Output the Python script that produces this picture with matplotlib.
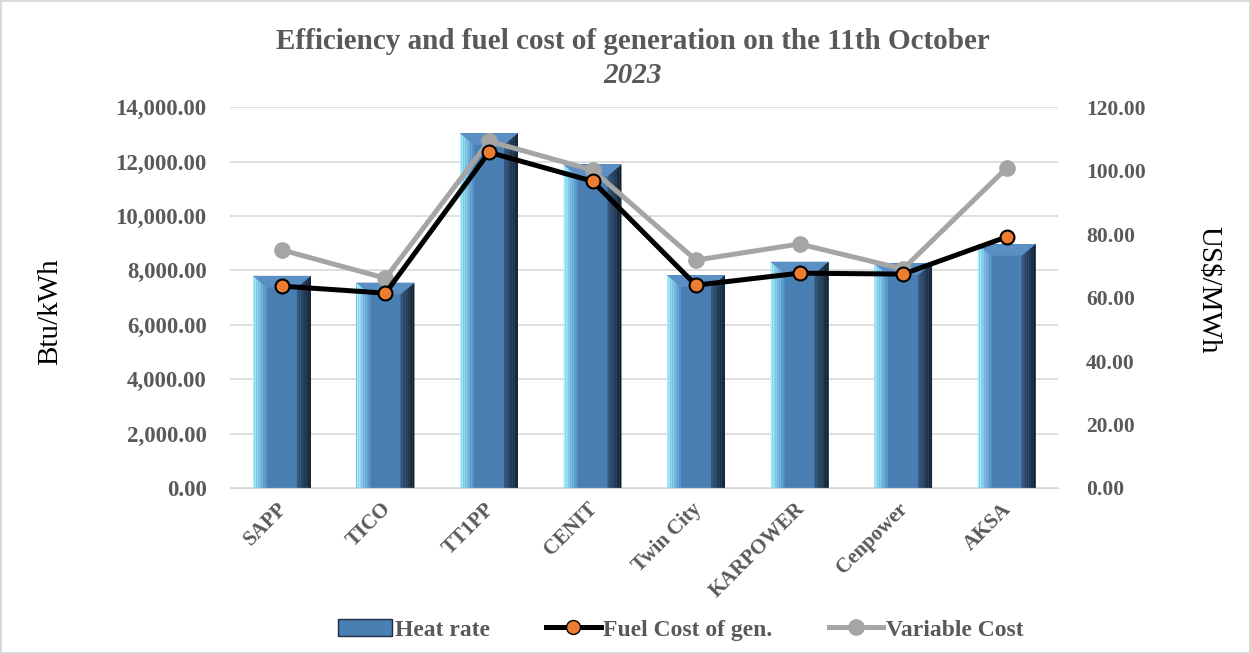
import numpy as np
import matplotlib.pyplot as plt
import matplotlib.transforms as mtransforms
from matplotlib.patches import Polygon, Patch
from matplotlib.lines import Line2D
from matplotlib.colors import to_rgb

plt.rcParams['font.family'] = 'serif'
plt.rcParams['font.serif'] = ['Liberation Serif', 'DejaVu Serif']

plants = ["SAPP", "TICO", "TT1PP", "CENIT", "Twin City", "KARPOWER", "Cenpower", "AKSA"]
heat_rate = [7800, 7550, 13050, 11900, 7830, 8320, 8260, 8970]
fuel_cost = [63.6, 61.4, 105.8, 96.7, 63.9, 67.7, 67.4, 79.1]
variable_cost = [75.0, 66.1, 109.3, 100.2, 71.8, 76.9, 69.0, 100.8]

grey = '#595959'
x = np.arange(len(plants))
width = 0.56

fig = plt.figure(figsize=(12.51, 6.54), dpi=100)
fig.patch.set_edgecolor('#d9d9d9')
fig.patch.set_linewidth(1.5)
ax1 = fig.add_axes([0.184, 0.254, 0.662, 0.582])
ax2 = ax1.twinx()

def blend(c1, c2, t):
    a, b = np.array(to_rgb(c1)), np.array(to_rgb(c2))
    return tuple(a + (b - a) * t)

# bars with a bevel look
bars = ax1.bar(x, heat_rate, width, color='#4a7fb3', zorder=2)
bw = 0.135  # bevel width in x units
bh = 430    # bevel height in data units
for rect in bars:
    x0 = rect.get_x()
    x1 = x0 + rect.get_width()
    h = rect.get_height()
    n = 8
    # left face, light cyan to blue
    for i in range(n):
        a, b = x0 + bw * i / n, x0 + bw * (i + 1) / n
        ax1.add_patch(Polygon([(a, 0), (b, 0), (b, h - bh * (i + 1) / n), (a, h - bh * i / n)],
                              closed=True, color=blend('#a8f4ff', '#5896cc', i / (n - 1)),
                              lw=0, zorder=3))
    # right face, blue to dark navy
    for i in range(n):
        a, b = x1 - bw + bw * i / n, x1 - bw + bw * (i + 1) / n
        ax1.add_patch(Polygon([(a, 0), (b, 0), (b, h - bh + bh * (i + 1) / n), (a, h - bh + bh * i / n)],
                              closed=True, color=blend('#34557a', '#14202e', i / (n - 1)),
                              lw=0, zorder=3))
    # top bevel
    ax1.add_patch(Polygon([(x0, h), (x1, h), (x1 - bw, h - bh), (x0 + bw, h - bh)],
                          closed=True, color='#5b90c4', lw=0, zorder=3))

ax2.plot(x, fuel_cost, color='black', lw=3.6, marker='o', markersize=10,
         markerfacecolor='#ed7d31', markeredgecolor='black', markeredgewidth=1.5, zorder=5)
ax2.plot(x, variable_cost, color='#a5a5a5', lw=3.6, marker='o', markersize=11,
         markerfacecolor='#a5a5a5', markeredgecolor='#a5a5a5', zorder=4)

ax1.set_xlim(-0.5, len(plants) - 0.5)
ax1.set_ylim(0, 14000)
ax2.set_ylim(0, 120)
ax1.set_yticks(np.arange(0, 14001, 2000))
ax2.set_yticks(np.arange(0, 121, 20))
ax1.set_yticklabels([f"{v:,.2f}" for v in np.arange(0, 14001, 2000)])
ax2.set_yticklabels([f"{v:.2f}" for v in np.arange(0, 121, 20)])
ax1.set_xticks(x)
ax1.set_xticklabels(plants, rotation=45, ha='right', rotation_mode='anchor')

ax1.grid(axis='y', color='#d9d9d9', lw=1.2, zorder=0)
ax1.set_axisbelow(True)
for ax in (ax1, ax2):
    for s in ['top', 'left', 'right']:
        ax.spines[s].set_visible(False)
    ax.spines['bottom'].set_color('#d9d9d9')
    ax.tick_params(length=0, labelsize=15.5, labelcolor=grey)
    for lab in ax.get_yticklabels() + ax.get_xticklabels():
        lab.set_fontweight('bold')
ax1.tick_params(axis='x', labelsize=15, pad=8)
ax1.tick_params(axis='y', labelsize=16.5, pad=17)
ax2.tick_params(axis='y', pad=20)
shift = mtransforms.ScaledTranslation(-5 / 100, 0, fig.dpi_scale_trans)
for lab in ax1.get_xticklabels():
    lab.set_transform(lab.get_transform() + shift)

fig.text(0.040, 0.523, 'Btu/kWh', fontsize=21, rotation=90, ha='center', va='center')
fig.text(0.966, 0.557, 'US$/MWh', fontsize=21, rotation=270, ha='center', va='center')

fig.text(0.506, 0.936, 'Efficiency and fuel cost of generation on the 11th October',
         fontsize=21, fontweight='bold', color=grey, ha='center', va='center')
fig.text(0.506, 0.885, '2023', fontsize=21, fontweight='bold', fontstyle='italic',
         color=grey, ha='center', va='center')

handles = [Patch(facecolor='#4a7fb3', edgecolor='#1c2f45'),
           Line2D([], [], color='black', lw=3.6, marker='o', markersize=10,
                  markerfacecolor='#ed7d31', markeredgecolor='black'),
           Line2D([], [], color='#a5a5a5', lw=3.6, marker='o', markersize=11,
                  markerfacecolor='#a5a5a5', markeredgecolor='#a5a5a5')]
leg = fig.legend(handles, ['Heat rate', 'Fuel Cost of gen.', 'Variable Cost'],
                 loc='center', bbox_to_anchor=(0.544, 0.037), ncol=3, frameon=False,
                 prop={'size': 17, 'weight': 'bold'}, handlelength=2.3,
                 handletextpad=0.1, columnspacing=2.4)
for t in leg.get_texts():
    t.set_color(grey)

plt.savefig('out.png', dpi=100)
